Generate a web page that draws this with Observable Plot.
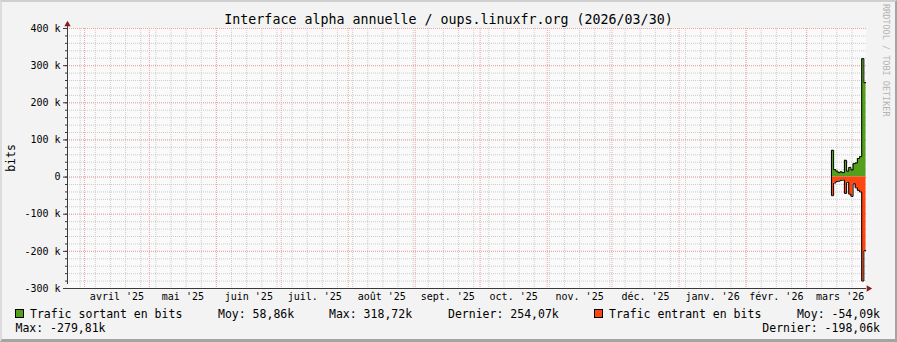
<!DOCTYPE html>
<html><head><meta charset="utf-8">
<script src="https://cdn.jsdelivr.net/npm/d3@7"></script>
<script src="https://cdn.jsdelivr.net/npm/@observablehq/plot@0.6"></script>
<style>
body{margin:0;background:#f3f3f3}
#wrap{position:relative;width:897px;height:342px;background:#f3f3f3;overflow:hidden}
#wrap svg{position:absolute;left:0;top:0}
#frame{position:absolute;left:0;top:0;width:897px;height:342px;box-sizing:border-box;border-top:2px solid #cfcfcf;border-left:2px solid #dcdcdc;border-bottom:3px solid #a4a4a4;border-right:2px solid #a4a4a4;pointer-events:none}
</style></head><body><div id="wrap"><div id="frame"></div></div>
<script>
// ---- texts ----
const title = "Interface alpha annuelle / oups.linuxfr.org (2026/03/30)";
const yLabel = "bits";
const credit = "RRDTOOL / TOBI OETIKER";

// ---- x axis: month starts and labels ----
const monthStarts = ["2025-04-01","2025-05-01","2025-06-01","2025-07-01","2025-08-01","2025-09-01","2025-10-01","2025-11-01","2025-12-01","2026-01-01","2026-02-01","2026-03-01","2026-04-01"];
const monthLabels = ["avril '25","mai '25","juin '25","juil. '25","août '25","sept. '25","oct. '25","nov. '25","déc. '25","janv. '26","févr. '26","mars '26"];
const xStart = "2025-03-24T03:00:00Z";
const xEnd = "2026-03-28T17:00:00Z";

// ---- y axis ----
const yTicks = [-300000,-200000,-100000,0,100000,200000,300000,400000];
const yTickLabels = ["-300 k","-200 k","-100 k","0","100 k","200 k","300 k","400 k"];
const yMinorStep = 20000;

// ---- series (daily values, bits) ----
const binStart = "2026-03-12T12:00:00Z";
const outValues = [72000,20000,16000,12000,14000,12000,45000,16000,26000,19000,36000,38000,50000,55000,318720,254070];
const inValues = [-50000,-16000,-12000,-11000,-9000,-8000,-44000,-14000,-46000,-52000,-18000,-29000,-36000,-40000,-279810,-198060];
const seriesNames = ["Trafic sortant en bits","Trafic entrant en bits"];
const seriesColors = ["#54a01c","#ff4512"];
const outStats = ["Moy: 58,86k","Max: 318,72k","Dernier: 254,07k"];
const inStats = ["Moy: -54,09k","Max: -279,81k","Dernier: -198,06k"];

// ---- build data ----
const DAY = 86400000;
const t0 = new Date(binStart).getTime();
function series(vals){
  const pts = vals.map((v,i)=>({date:new Date(t0+i*DAY), v}));
  pts.push({date:new Date(t0+vals.length*DAY), v:vals[vals.length-1]});
  return pts;
}
const outPts = series(outValues), inPts = series(inValues);
const outLine = [{date:new Date(t0), v:0}, ...outPts];
const inLine = [{date:new Date(t0), v:0}, ...inPts];
const xDomain = [new Date(xStart), new Date(xEnd)];
const mStarts = monthStarts.map(d=>new Date(d+"T00:00:00Z"));
const monthTicks = monthLabels.map((label,i)=>({label, mid:new Date((mStarts[i].getTime()+mStarts[i+1].getTime())/2)}));
const weeks = d3.utcSunday.range(xDomain[0], xDomain[1]);
const minorY = d3.range(yTicks[0], yTicks[yTicks.length-1]+1, yMinorStep);
const labelOf = new Map(yTicks.map((t,i)=>[t,yTickLabels[i]]));

const font = "'DejaVu Sans Mono', monospace";
const majorGrid = "#f0a4a4", minorGrid = "#cccccc", axisColor = "#3a3a3a", arrowColor = "#8a1c1c";

const chart = Plot.plot({
  width: 897, height: 342,
  marginLeft: 67, marginRight: 31, marginTop: 28, marginBottom: 54,
  style: {background: "transparent", fontFamily: font, fontSize: "10px", color: "#000", overflow: "visible"},
  x: {type: "utc", domain: xDomain, axis: null},
  y: {domain: [yTicks[0], yTicks[yTicks.length-1]], axis: null},
  marks: [
    Plot.frame({fill: "#fafafa", stroke: "none"}),
    Plot.ruleX(weeks, {stroke: minorGrid, strokeDasharray: "1,1", strokeWidth: 1}),
    Plot.ruleY(minorY, {stroke: minorGrid, strokeDasharray: "1,1", strokeWidth: 1}),
    Plot.ruleX(mStarts.slice(0,-1), {stroke: majorGrid, strokeDasharray: "1,1", strokeWidth: 1}),
    Plot.ruleY(yTicks, {stroke: majorGrid, strokeDasharray: "1,1", strokeWidth: 1}),
    Plot.areaY(outPts, {x: "date", y: "v", curve: "step-after", fill: seriesColors[0]}),
    Plot.areaY(inPts, {x: "date", y: "v", curve: "step-after", fill: seriesColors[1]}),
    Plot.line(outLine, {x: "date", y: "v", curve: "step-after", stroke: "#000", strokeWidth: 1}),
    Plot.line(inLine, {x: "date", y: "v", curve: "step-after", stroke: "#000", strokeWidth: 1}),
    Plot.ruleY([yTicks[0]], {stroke: axisColor, strokeWidth: 1}),
    Plot.ruleX([xDomain[0]], {stroke: axisColor, strokeWidth: 1, dy: -4, y1: yTicks[0], y2: yTicks[yTicks.length-1]}),
    Plot.axisY(minorY, {tickSize: 2, tickFormat: () => "", stroke: axisColor, label: null}),
    Plot.axisY(yTicks, {tickSize: 4, tickPadding: 3, tickFormat: d => labelOf.get(d), stroke: axisColor, fill: "#000", fontSize: 10, label: null}),
    Plot.text(monthTicks, {x: "mid", text: "label", frameAnchor: "bottom", dy: 11, fontSize: 10, fill: "#000"}),
    Plot.dot([0], {frameAnchor: "top-left", symbol: "triangle2", r: 3, fill: arrowColor, stroke: "none", dy: -4}),
    Plot.dot([0], {frameAnchor: "bottom-right", symbol: "triangle2", rotate: 90, r: 3, fill: arrowColor, stroke: "none", dx: 2})
  ]
});
const wrap = document.getElementById("wrap");
wrap.insertBefore(chart, document.getElementById("frame"));

// ---- overlay texts (title, axis label, legend, credit) ----
const ov = d3.select(wrap).append("svg").attr("width", 897).attr("height", 342)
  .style("font-family", font).style("pointer-events","none");
ov.append("text").attr("x", 448.5).attr("y", 24).attr("text-anchor","middle").attr("font-size", 13.3).attr("fill","#000").text(title);
ov.append("text").attr("transform","translate(15,158) rotate(-90)").attr("text-anchor","middle").attr("font-size", 11.5).attr("fill","#000").text(yLabel);
ov.append("text").attr("transform","translate(883,4) rotate(90)").attr("font-size", 8.5).attr("fill","#b4b4b4").text(credit);

const lg = ov.append("g").attr("font-size", 11.5).attr("fill", "#000");
lg.append("rect").attr("x", 15.5).attr("y", 309.5).attr("width", 8).attr("height", 8).attr("fill", seriesColors[0]).attr("stroke","#000");
lg.append("text").attr("x", 30).attr("y", 318).text(seriesNames[0]);
lg.append("text").attr("x", 218).attr("y", 318).text(outStats[0]);
lg.append("text").attr("x", 329).attr("y", 318).text(outStats[1]);
lg.append("text").attr("x", 448).attr("y", 318).text(outStats[2]);
lg.append("rect").attr("x", 594.5).attr("y", 309.5).attr("width", 8).attr("height", 8).attr("fill", seriesColors[1]).attr("stroke","#000");
lg.append("text").attr("x", 609).attr("y", 318).text(seriesNames[1]);
lg.append("text").attr("x", 880).attr("y", 318).attr("text-anchor","end").text(inStats[0]);
lg.append("text").attr("x", 15.5).attr("y", 332).text(inStats[1]);
lg.append("text").attr("x", 880).attr("y", 332).attr("text-anchor","end").text(inStats[2]);
</script></body></html>
